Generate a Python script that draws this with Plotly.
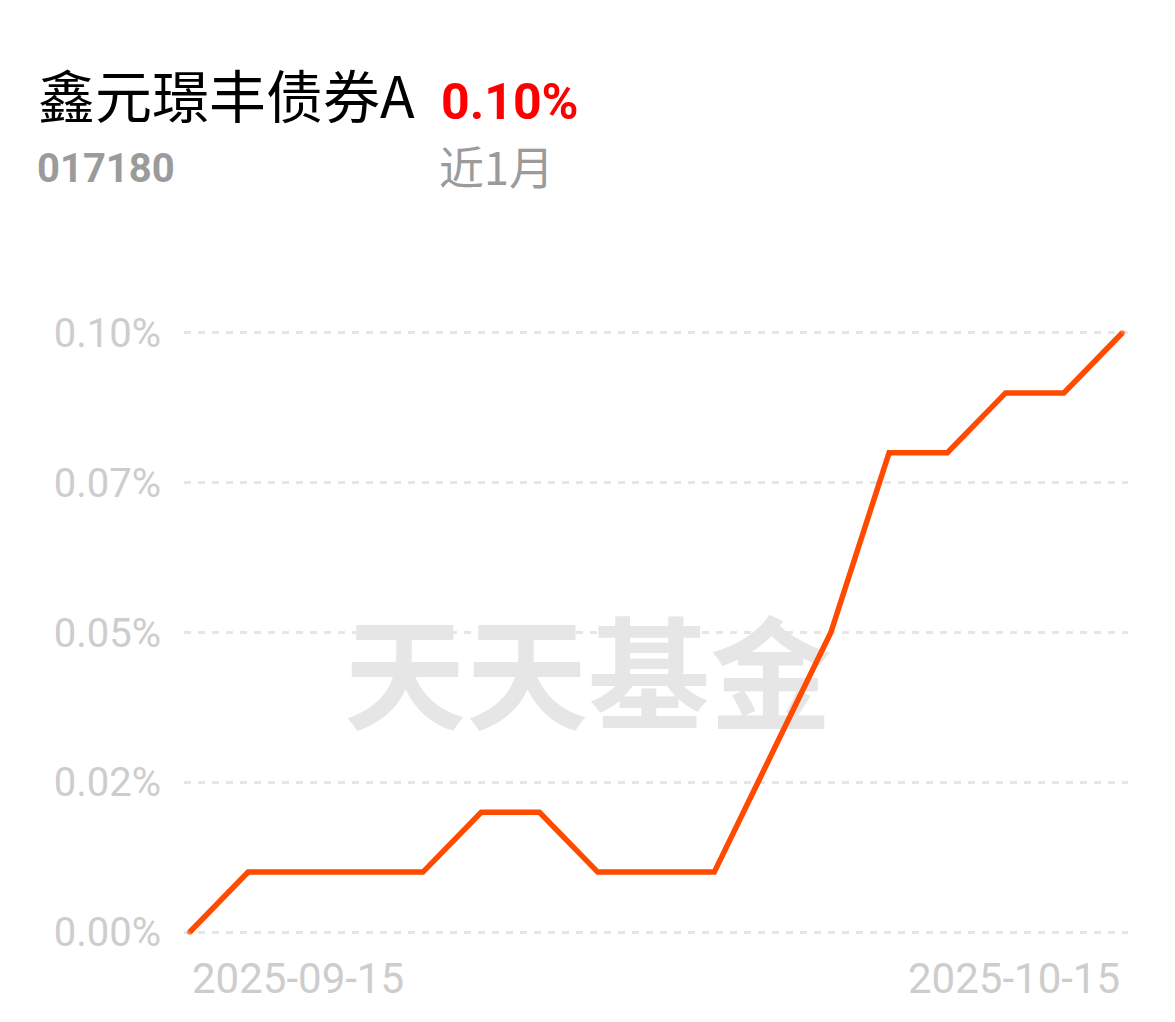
import plotly.graph_objects as go

dates = ["2025-09-15", "2025-09-16", "2025-09-17", "2025-09-18", "2025-09-19",
         "2025-09-22", "2025-09-23", "2025-09-24", "2025-09-25", "2025-09-26",
         "2025-09-29", "2025-09-30", "2025-10-09", "2025-10-10", "2025-10-13",
         "2025-10-14", "2025-10-15"]
returns_pct = [0.00, 0.01, 0.01, 0.01, 0.01, 0.02, 0.02, 0.01, 0.01, 0.01,
               0.03, 0.05, 0.08, 0.08, 0.09, 0.09, 0.10]
y_tickvals = [0.0, 0.025, 0.05, 0.075, 0.10]
y_ticktext = ["0.00%", "0.02%", "0.05%", "0.07%", "0.10%"]

fund_name = "鑫元璟丰债券A"
fund_code = "017180"
period_return = "0.10%"
period_label = "近1月"
watermark = "天天基金"

# page body has an 8px margin; work in window pixels and compensate
OFF = 8
W, H = 1175 - OFF, 1022 - OFF
L, R, T, B = 184 - OFF, 1128 - OFF, 327 - OFF, 938 - OFF
pw, ph = R - L, B - T


def px(x):
    return (x - OFF - L) / pw


def py(y):
    return (B - (y - OFF)) / ph


LINE_W = 5.5
line_color = "#ff4a00"
# round caps at the two ends of the line
cap_sizes = [LINE_W] + [0] * (len(dates) - 2) + [LINE_W]

fig = go.Figure()
# watermark on the base axes (drawn below the line)
fig.add_trace(go.Scatter(
    x=[px(588)], y=[py(689)], mode="text", text=[watermark],
    textfont=dict(family="Noto Sans CJK SC", size=122, color="#e6e6e6", weight="bold"),
    textposition="middle center", hoverinfo="skip", showlegend=False,
    xaxis="x", yaxis="y"))
# the return line on overlay axes
fig.add_trace(go.Scatter(
    x=dates, y=returns_pct, mode="lines+markers",
    line=dict(color=line_color, width=LINE_W, shape="linear"),
    marker=dict(size=cap_sizes, color=line_color, line=dict(width=0)),
    cliponaxis=False, showlegend=False, xaxis="x2", yaxis="y2"))

gray_tick = "#cdcdcd"
fig.update_layout(
    width=W, height=H,
    margin=dict(l=L, r=W - R, t=T, b=H - B),
    paper_bgcolor="white", plot_bgcolor="white",
    xaxis=dict(range=[0, 1], visible=False, fixedrange=True),
    yaxis=dict(range=[0, 1], visible=False, fixedrange=True),
    xaxis2=dict(type="category", overlaying="x", range=[-0.1, 16.1],
                showticklabels=False, showgrid=False, zeroline=False,
                showline=False, ticks=""),
    yaxis2=dict(overlaying="y", side="left", range=[-0.001, 0.101],
                tickvals=y_tickvals, ticktext=y_ticktext,
                tickfont=dict(family="Roboto", size=40, color=gray_tick),
                showgrid=True, gridcolor="#e6e6e6", gridwidth=3,
                griddash="7px,7px", zeroline=False, showline=False,
                ticks="", ticklabelstandoff=22),
)

annotations = [
    dict(text=fund_name, x=px(36), y=py(93), xanchor="left", yanchor="middle",
         font=dict(family="Noto Sans CJK SC", size=57, color="#000000")),
    dict(text=period_return, x=px(439), y=py(102), xanchor="left", yanchor="middle",
         font=dict(family="Roboto", size=50, color="#ff0000", weight="bold")),
    dict(text=fund_code, x=px(35), y=py(169), xanchor="left", yanchor="middle",
         font=dict(family="Roboto", size=40, color="#9b9b9b", weight="bold")),
    dict(text=period_label, x=px(437), y=py(166), xanchor="left", yanchor="middle",
         font=dict(family="Noto Sans CJK SC", size=45, color="#9b9b9b")),
]
for a in annotations:
    a.update(xref="paper", yref="paper", showarrow=False)
    fig.add_annotation(**a)

# first / last date labels aligned to the first / last points
fig.add_annotation(text=dates[0], x=dates[0], xref="x2", y=0, yref="paper",
                   xanchor="left", yanchor="top", yshift=-14, showarrow=False,
                   font=dict(family="Roboto", size=42, color=gray_tick))
fig.add_annotation(text=dates[-1], x=dates[-1], xref="x2", y=0, yref="paper",
                   xanchor="right", yanchor="top", yshift=-14, showarrow=False,
                   font=dict(family="Roboto", size=42, color=gray_tick))

fig.write_html("out.html")
